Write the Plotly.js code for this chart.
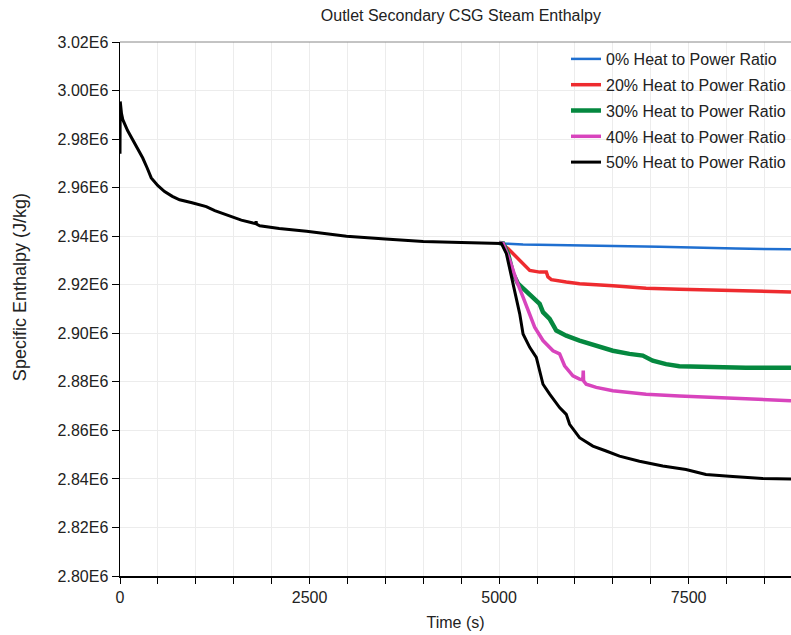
<!DOCTYPE html>
<html>
<head>
<meta charset="utf-8">
<script src="https://cdn.plot.ly/plotly-3.0.1.min.js"></script>
<style>
  html, body { margin: 0; padding: 0; background: #fff; }
  #chart { width: 791px; height: 635px; }
</style>
</head>
<body>
<div id="chart"></div>
<script>
// Shared start-up transient (all cases identical until the load change near 5000 s)
const baseTime = [0, 3, 20, 37, 100, 170, 240, 300, 360, 412, 500, 588, 690, 786, 950, 1138, 1250,
  1403, 1600, 1754, 1790, 1795, 1800, 1843, 2100, 2460, 2750, 2988, 3500, 4000, 4500, 5000, 5030];
const baseEnthalpy = [2.9740e6, 2.9955e6, 2.9905e6, 2.9880e6, 2.9835e6, 2.9797e6, 2.9760e6, 2.9722e6,
  2.9680e6, 2.9640e6, 2.9608e6, 2.9584e6, 2.9564e6, 2.9550e6, 2.9538e6, 2.9522e6, 2.9505e6,
  2.9488e6, 2.9466e6, 2.9454e6, 2.9452e6, 2.9462e6, 2.9450e6, 2.9443e6, 2.9432e6, 2.9420e6,
  2.9408e6, 2.9400e6, 2.9388e6, 2.9378e6, 2.9374e6, 2.9372e6, 2.9370e6];

// Branches after the heat extraction starts
const time0 = [5316, 6061, 7114, 8123, 8850];
const enthalpy0 = [2.9366e6, 2.9363e6, 2.9356e6, 2.9349e6, 2.9346e6];

const time20 = [5118, 5184, 5316, 5404, 5535, 5623, 5645, 5667, 5689, 5886, 6061, 6500, 6939, 7377, 7816, 8254, 8850];
const enthalpy20 = [2.9349e6, 2.9328e6, 2.9287e6, 2.9259e6, 2.9252e6, 2.9252e6, 2.9232e6, 2.9225e6,
  2.9221e6, 2.9211e6, 2.9204e6, 2.9196e6, 2.9186e6, 2.9181e6, 2.9177e6, 2.9174e6, 2.9170e6];

const time30 = [5053, 5118, 5184, 5250, 5360, 5535, 5579, 5667, 5754, 5886, 6061, 6281, 6500,
  6719, 6895, 7026, 7202, 7377, 7816, 8254, 8850];
const enthalpy30 = [2.9370e6, 2.9328e6, 2.9246e6, 2.9204e6, 2.9170e6, 2.9121e6, 2.9087e6, 2.9059e6,
  2.9011e6, 2.8990e6, 2.8970e6, 2.8949e6, 2.8928e6, 2.8915e6, 2.8908e6, 2.8887e6, 2.8873e6,
  2.8864e6, 2.8859e6, 2.8858e6, 2.8858e6];

const time40 = [5053, 5140, 5228, 5316, 5404, 5469, 5579, 5711, 5798, 5864, 5974, 6061, 6105, 6110,
  6114, 6149, 6281, 6500, 6939, 7377, 7816, 8254, 8850];
const enthalpy40 = [2.9370e6, 2.9301e6, 2.9218e6, 2.9149e6, 2.9080e6, 2.9025e6, 2.8970e6, 2.8928e6,
  2.8915e6, 2.8866e6, 2.8825e6, 2.8811e6, 2.8808e6, 2.8846e6, 2.8804e6, 2.8790e6, 2.8777e6,
  2.8763e6, 2.8749e6, 2.8742e6, 2.8735e6, 2.8728e6, 2.8722e6];

const time50 = [5096, 5162, 5206, 5272, 5316, 5404, 5491, 5535, 5579, 5667, 5798, 5886, 5930, 6061,
  6237, 6412, 6588, 6851, 7158, 7465, 7728, 8035, 8474, 8850];
const enthalpy50 = [2.9328e6, 2.9232e6, 2.9163e6, 2.9080e6, 2.8997e6, 2.8942e6, 2.8901e6, 2.8846e6,
  2.8790e6, 2.8749e6, 2.8694e6, 2.8666e6, 2.8625e6, 2.8570e6, 2.8535e6, 2.8515e6, 2.8494e6,
  2.8473e6, 2.8453e6, 2.8439e6, 2.8418e6, 2.8411e6, 2.8402e6, 2.8400e6];

const seriesNames = ['0% Heat to Power Ratio', '20% Heat to Power Ratio', '30% Heat to Power Ratio',
  '40% Heat to Power Ratio', '50% Heat to Power Ratio'];
const seriesColors = ['#1f6fd0', '#ee2b2f', '#05883f', '#d844bd', '#000000'];
const seriesWidths = [2.5, 3.5, 4.5, 3.5, 3];
const branchTimes = [time0, time20, time30, time40, time50];
const branchValues = [enthalpy0, enthalpy20, enthalpy30, enthalpy40, enthalpy50];

const yTickVals = [2.80e6, 2.82e6, 2.84e6, 2.86e6, 2.88e6, 2.90e6, 2.92e6, 2.94e6, 2.96e6, 2.98e6, 3.00e6, 3.02e6];
const yTickText = ['2.80E6', '2.82E6', '2.84E6', '2.86E6', '2.88E6', '2.90E6', '2.92E6', '2.94E6',
  '2.96E6', '2.98E6', '3.00E6', '3.02E6'];
const xTickVals = [0, 2500, 5000, 7500];
const xTickText = ['0', '2500', '5000', '7500'];

const fontFamily = 'Liberation Sans, Arial, sans-serif';

// The common start-up part is drawn once (by the last, black case, which sits on top);
// the other cases are drawn from the branch point at 5000 s onwards.
const splitIndex = baseTime.indexOf(5000);
const traces = seriesNames.map((name, i) => {
  const last = i === seriesNames.length - 1;
  const t0 = last ? baseTime : baseTime.slice(splitIndex);
  const v0 = last ? baseEnthalpy : baseEnthalpy.slice(splitIndex);
  return {
    type: 'scatter',
    mode: 'lines',
    name: name,
    legendgroup: 'g' + i,
    x: t0.concat(branchTimes[i]),
    y: v0.concat(branchValues[i]),
    line: { color: seriesColors[i], width: seriesWidths[i] }
  };
});

const layout = {
  width: 791,
  height: 635,
  margin: { l: 120, r: 0, t: 42, b: 59 },
  paper_bgcolor: '#ffffff',
  plot_bgcolor: '#ffffff',
  font: { family: fontFamily, size: 16, color: '#222222' },
  title: {
    text: 'Outlet Secondary CSG Steam Enthalpy',
    font: { family: fontFamily, size: 16, color: '#222222' },
    x: 0.508, xref: 'paper', y: 0.975, yanchor: 'middle'
  },
  showlegend: true,
  legend: {
    x: 1, xanchor: 'right', y: 1, yanchor: 'top',
    bgcolor: 'rgba(255,255,255,0)',
    font: { family: fontFamily, size: 16, color: '#222222' },
    traceorder: 'grouped',
    tracegroupgap: 2
  },
  xaxis: {
    title: { text: 'Time (s)', font: { size: 16 }, standoff: 12 },
    range: [0, 8850],
    tickvals: xTickVals,
    ticktext: xTickText,
    tickfont: { size: 16 },
    ticks: 'outside', ticklen: 6, tickcolor: '#000', tickwidth: 1,
    showgrid: true, gridcolor: '#ececec', gridwidth: 1,
    minor: { dtick: 500, tick0: 0, ticks: 'outside', ticklen: 6, tickcolor: '#000', showgrid: true, gridcolor: '#ececec' },
    showline: true, linecolor: '#000', linewidth: 1.5,
    zeroline: false
  },
  yaxis: {
    range: [2.80e6, 3.02e6],
    tickvals: yTickVals,
    ticktext: yTickText,
    tickfont: { size: 16 },
    ticks: 'outside', ticklen: 7, tickcolor: '#000', tickwidth: 1,
    showgrid: true, gridcolor: '#ececec', gridwidth: 1,
    showline: true, linecolor: '#000', linewidth: 1.5,
    zeroline: false
  },
  annotations: [{
    // vertical axis label
    text: 'Specific Enthalpy (J/kg)',
    xref: 'paper', yref: 'paper',
    x: -0.149, y: 0.541,
    xanchor: 'center', yanchor: 'middle',
    textangle: -90, showarrow: false,
    font: { family: fontFamily, size: 18, color: '#222222' }
  }],
  shapes: [{
    type: 'line', xref: 'paper', yref: 'paper', x0: 0, x1: 1, y0: 1, y1: 1,
    line: { color: '#888888', width: 1 }
  }]
};

Plotly.newPlot('chart', traces, layout, { displayModeBar: false, staticPlot: true });
</script>
</body>
</html>
